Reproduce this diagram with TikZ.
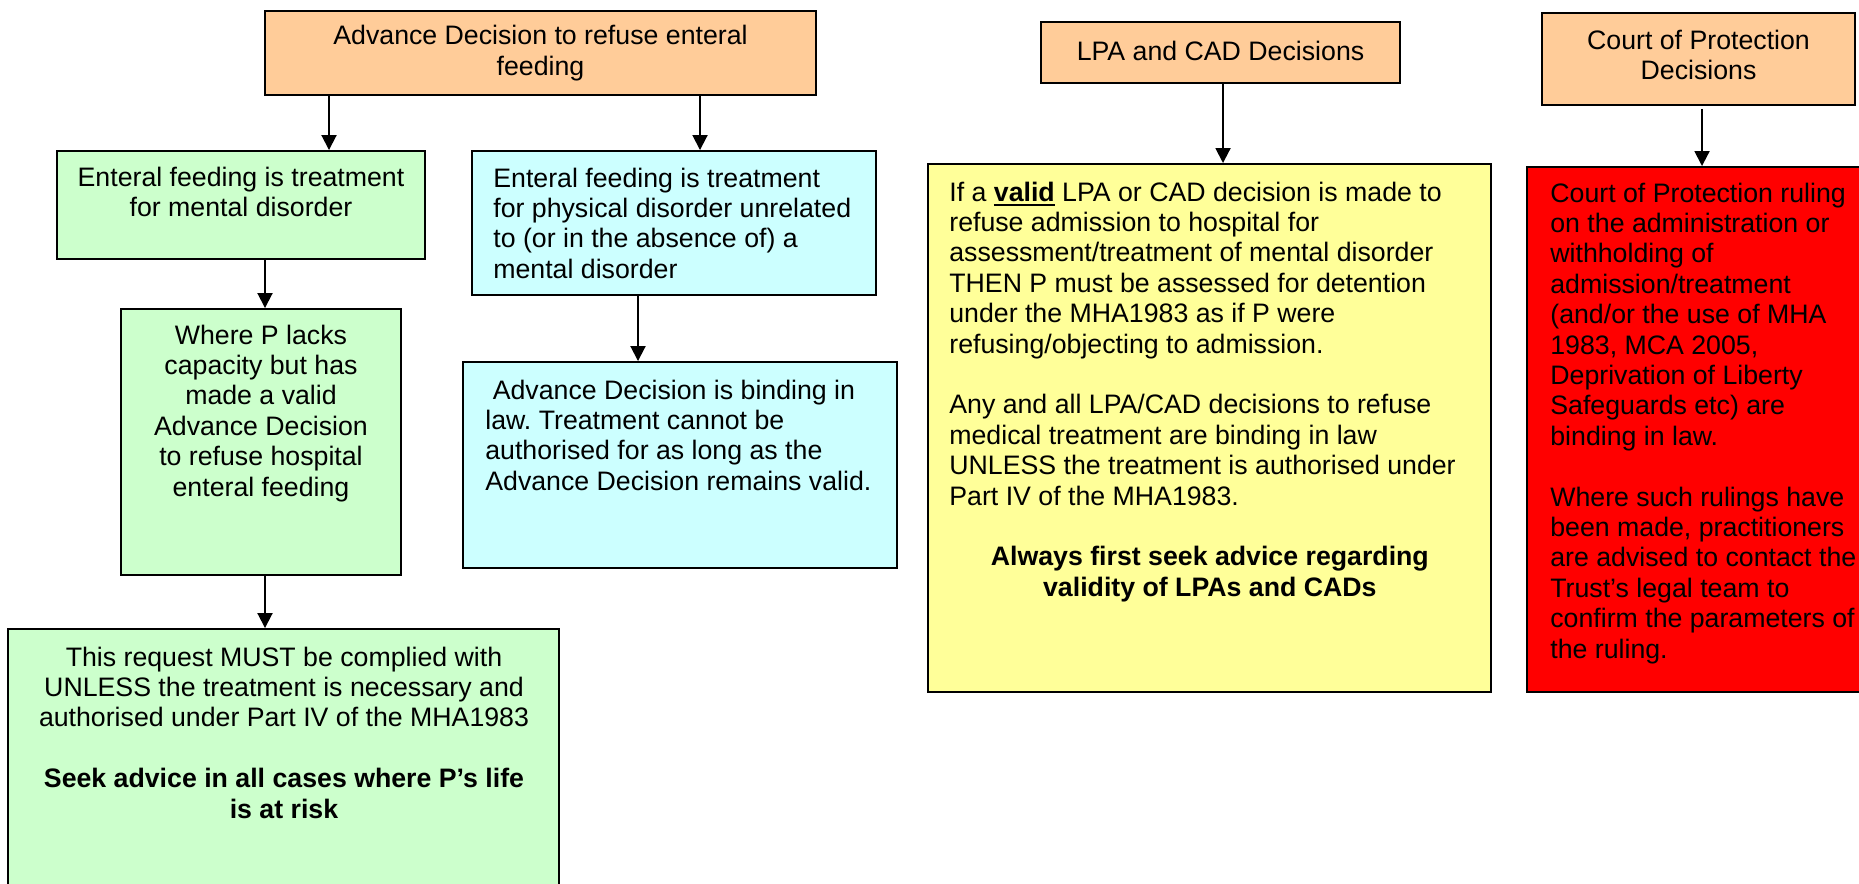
\documentclass[tikz,border=0pt]{standalone}
\usepackage{fontspec}
\setmainfont{Liberation Sans}
\usetikzlibrary{arrows.meta,fit}

\definecolor{headfill}{HTML}{FFCC99}
\definecolor{mentalfill}{HTML}{CCFFCC}
\definecolor{physfill}{HTML}{CCFFFF}
\definecolor{lpafill}{HTML}{FFFF99}
\definecolor{courtfill}{HTML}{FF0000}

\newcommand{\ulbold}[1]{\leavevmode\vtop{\hbox{\textbf{#1}}\kern1.5pt\hrule height 1.1pt}}

\tikzset{
	box/.style={draw=black, line width=1.1pt, inner sep=0pt},
	arr/.style={line width=1.1pt, -{Triangle[length=3mm,width=3mm]}},
	txt/.style={inner sep=0pt, align=center}
}

\begin{document}
\frenchspacing
\begin{tikzpicture}[x=0.2mm, y=-0.2mm, font=\fontsize{15.2}{17.3}\selectfont]
		\useasboundingbox (0,0) rectangle (1859,883);
		
		%headings
		\node[box, fill=headfill, fit={(265,11) (816,95)}] (adv) {};
		\node[box, fill=headfill, fit={(1041,22) (1400,83)}] (lpa) {};
		\node[box, fill=headfill, fit={(1542,13) (1855,105)}] (cop) {};
		\node[txt] (advt) at (adv.center) {Advance Decision to refuse enteral\\feeding};
		\node[txt] (lpat) at ([yshift=0.4mm]lpa.center) {LPA and CAD Decisions};
		\node[txt] (copt) at ([yshift=0.8mm]cop.center) {Court of Protection\\Decisions};
		
		%boxes
		\node[box, fill=mentalfill, fit={(57,151) (425,259)}] (ment1) {};
		\node[box, fill=physfill, fit={(472,151) (876,295)}] (phys1) {};
		\node[box, fill=mentalfill, fit={(121,309) (401,575)}] (ment2) {};
		\node[box, fill=physfill, fit={(463,362) (897,568)}] (phys2) {};
		\node[box, fill=mentalfill, fit={(8,629) (559,900)}] (ment3) {};
		\node[box, fill=lpafill, fit={(928,164) (1491,692)}] (lpabox) {};
		\node[box, fill=courtfill, fit={(1527,167) (1875,692)}] (copbox) {};
		
		%texts
		\node[txt, anchor=base] (ment1t) at (241,186) {\begin{tabular}[t]{@{}c@{}}
			Enteral feeding is treatment\\
			for mental disorder
		\end{tabular}};
		\node[txt, anchor=base west] (phys1t) at (493,187) {\begin{tabular}[t]{@{}l@{}}
			Enteral feeding is treatment\\
			for physical disorder unrelated\\
			to (or in the absence of) a\\
			mental disorder
		\end{tabular}};
		\node[txt, anchor=base] (ment2t) at (261,344) {\begin{tabular}[t]{@{}c@{}}
			Where P lacks\\
			capacity but has\\
			made a valid\\
			Advance Decision\\
			to refuse hospital\\
			enteral feeding
		\end{tabular}};
		\node[txt, anchor=base west] (phys2t) at (485,399) {\begin{tabular}[t]{@{}l@{}}
			\ Advance Decision is binding in\\
			law. Treatment cannot be\\
			authorised for as long as the\\
			Advance Decision remains valid.
		\end{tabular}};
		\node[txt, anchor=base] (ment3t) at (284,666) {\begin{tabular}[t]{@{}c@{}}
			This request MUST be complied with\\
			UNLESS the treatment is necessary and\\
			authorised under Part IV of the MHA1983\\
			\\
			\textbf{Seek advice in all cases where P’s life}\\
			\textbf{is at risk}
		\end{tabular}};
		\node[txt, anchor=base west] (lpaboxt) at (949,201) {\begin{tabular}[t]{@{}l@{}}
			If a \ulbold{valid} LPA or CAD decision is made to\\
			refuse admission to hospital for\\
			assessment/treatment of mental disorder\\
			THEN P must be assessed for detention\\
			under the MHA1983 as if P were\\
			refusing/objecting to admission.\\
			\\
			Any and all LPA/CAD decisions to refuse\\
			medical treatment are binding in law\\
			UNLESS the treatment is authorised under\\
			Part IV of the MHA1983.\\
			\\
			\makebox[104.2mm]{\bfseries Always first seek advice regarding}\\
			\makebox[104.2mm]{\bfseries validity of LPAs and CADs}
		\end{tabular}};
		\node[txt, anchor=base west] (copboxt) at (1550,202) {\begin{tabular}[t]{@{}l@{}}
			Court of Protection ruling\\
			on the administration or\\
			withholding of\\
			admission/treatment\\
			(and/or the use of MHA\\
			1983, MCA 2005,\\
			Deprivation of Liberty\\
			Safeguards etc) are\\
			binding in law.\\
			\\
			Where such rulings have\\
			been made, practitioners\\
			are advised to contact the\\
			Trust’s legal team to\\
			confirm the parameters of\\
			the ruling.
		\end{tabular}};
		
		%arrows
		\draw[arr] (adv.south -| 329,0) -- (ment1.north -| 329,0);
		\draw[arr] (adv.south -| 700,0) -- (phys1.north -| 700,0);
		\draw[arr] (ment1.south -| 265,0) -- (ment2.north -| 265,0);
		\draw[arr] (ment2.south -| 265,0) -- (ment3.north -| 265,0);
		\draw[arr] (phys1.south -| 638,0) -- (phys2.north -| 638,0);
		\draw[arr] (lpa.south -| 1223,0) -- (lpabox.north -| 1223,0);
		\draw[arr, shorten <=0.6mm] (cop.south -| 1702,0) -- (copbox.north -| 1702,0);
	
\end{tikzpicture}
\end{document}
